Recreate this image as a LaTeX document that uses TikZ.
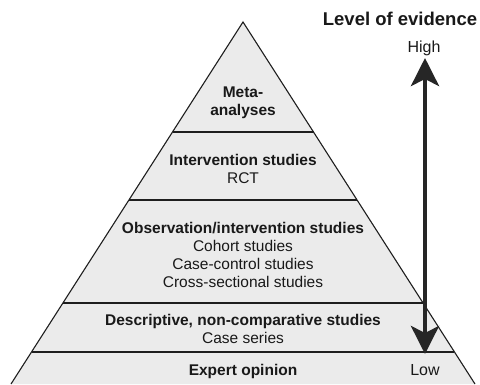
\documentclass[tikz,border=0pt]{standalone}
\usepackage{fontspec}
\setmainfont{Liberation Sans}
\usetikzlibrary{arrows.meta}
\definecolor{tierfill}{HTML}{EBEBEB}
\definecolor{edge}{HTML}{1E1E1E}
\begin{document}
\begin{tikzpicture}[x=1pt,y=-1pt,
  divider/.style={draw=edge,line width=1.1pt},
  lbl/.style={align=center,font=\fontsize{15.5}{18}\selectfont,inner sep=0pt,text=black!90},
  bigarrow/.style={line width=4.5pt,-{Stealth[length=28pt,width=28pt,inset=7pt]}}]
\useasboundingbox (0,0) rectangle (480,384);
% pyramid
\fill[tierfill] (11,384) -- (243,22) -- (475,384) -- cycle;
\draw[edge,line width=1.1pt,line join=miter] (11,384) -- (243,22) -- (475,384);
\draw[divider] (172.5,132) -- (313.5,132);
\draw[divider] (129,200) -- (357,200);
\draw[divider] (63,303) -- (423,303);
\draw[divider] (32,352) -- (454,352);
% labels
\node[lbl] (meta) at (243,103) {\textbf{Meta-}\\\textbf{analyses}};
\node[lbl] (interv) at (243,169) {\textbf{Intervention studies}\\RCT};
\node[lbl] (obs) at (243,255) {\textbf{Observation/intervention studies}\\Cohort studies\\Case-control studies\\Cross-sectional studies};
\node[lbl] (desc) at (243,329) {\textbf{Descriptive, non-comparative studies}\\Case series};
\node[lbl] (expert) at (243,371) {\textbf{Expert opinion}};
% evidence axis
\node[lbl,anchor=base,font=\fontsize{18.5}{20}\selectfont] (title) at (400,25) {\textbf{Level of evidence}};
\node[lbl,anchor=base,font=\fontsize{16}{20}\selectfont] (high) at (424,52) {High};
\node[lbl,anchor=base,font=\fontsize{16}{20}\selectfont] (low) at (425,375) {Low};
\coordinate (top) at (425,58);
\coordinate (mid) at (425,205);
\coordinate (bot) at (425,354);
\draw[bigarrow,draw=black!85] (mid) -- (top);
\draw[bigarrow,draw=black!85] (mid) -- (bot);
\end{tikzpicture}
\end{document}
